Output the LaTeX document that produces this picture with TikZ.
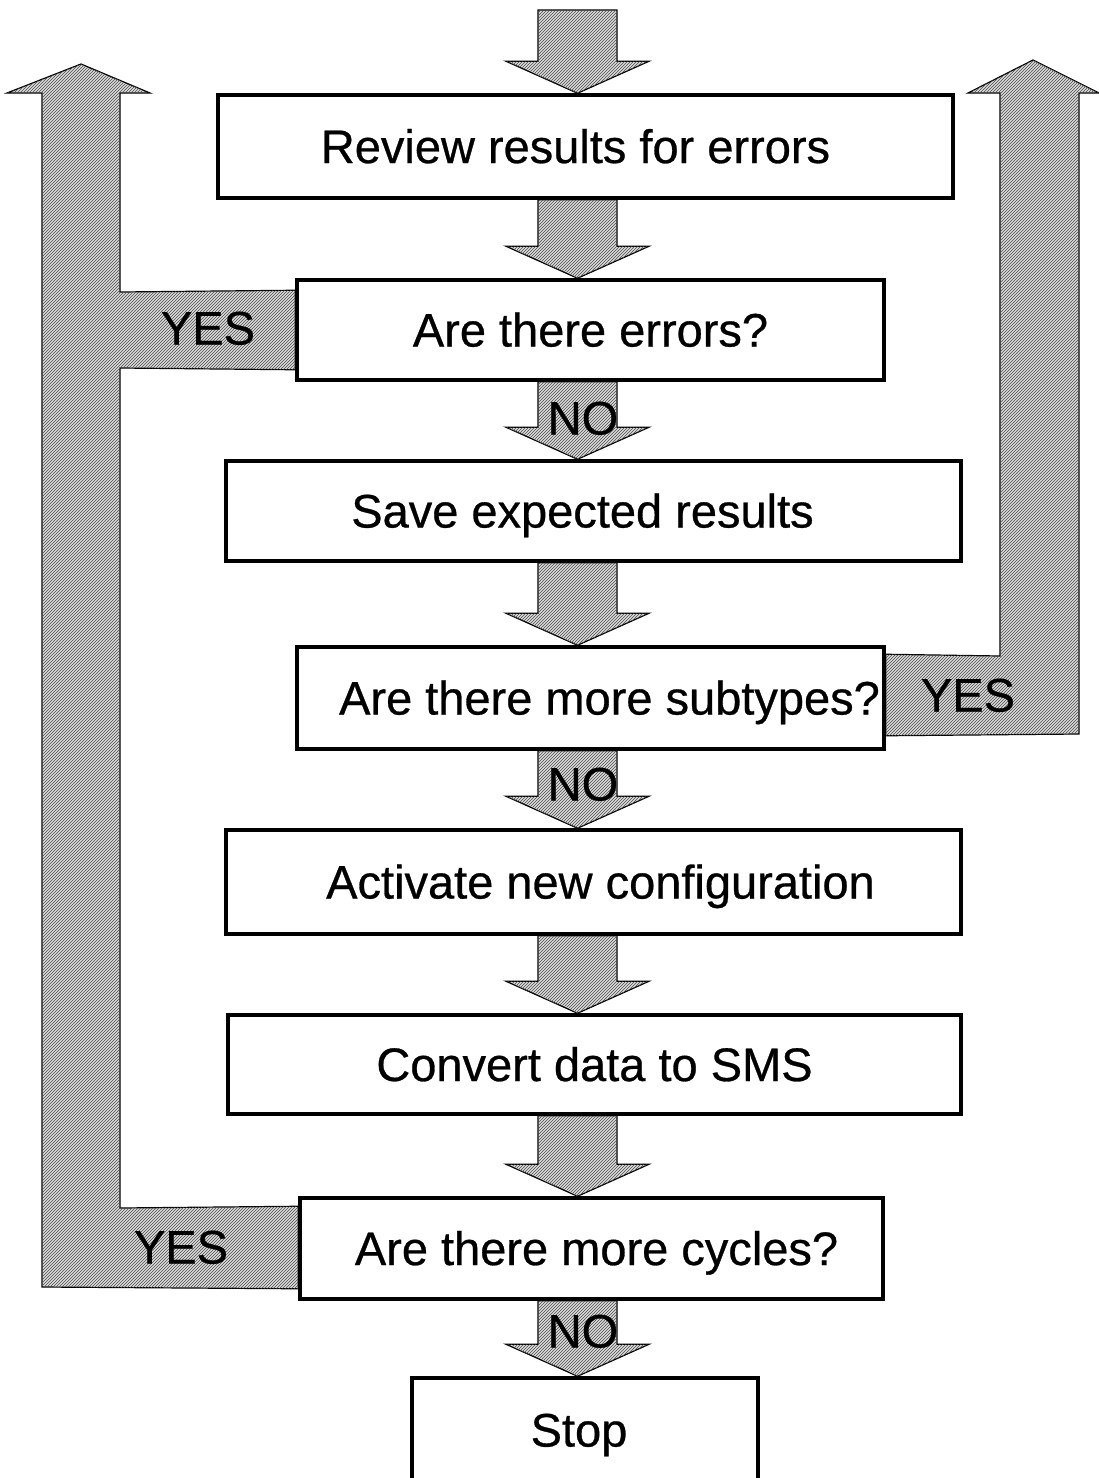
\documentclass[tikz,border=0pt]{standalone}
\usepackage{fontspec}
\setmainfont{Liberation Sans}
\newfontfamily\diagfont{Liberation Sans}[FakeBold=0.6]
\usetikzlibrary{patterns,calc}
\pgfdeclarelayer{bg}
\pgfsetlayers{bg,main}

% block arrow pointing down, from the bottom of one box to the top of the next
\newcommand\flowarrow[2]{%
  \path (ax |- #1) coordinate (s) (ax |- #2) coordinate (t);
  \draw[hatch] ([xshift=-39.5]s) -- ([shift={(-39.5,32)}]t) -- ([shift={(-71.5,32)}]t)
    -- (t) -- ([shift={(71.5,32)}]t) -- ([shift={(39.5,32)}]t) -- ([xshift=39.5]s) -- cycle;}

\begin{document}
\begin{tikzpicture}[x=1pt,y=1pt,
  box/.style={draw, line width=3.5pt, fill=white, inner sep=0pt,
    text height=33pt, text depth=0pt,
    font=\diagfont\fontsize{47}{56}\selectfont},
  hatch/.style={draw=black, line width=1.2pt, fill=gray!28,
    postaction={pattern=north east lines, pattern color=black!70}},
  lbl/.style={font=\diagfont\fontsize{47}{56}\selectfont, inner sep=0pt,
    text height=33pt, text depth=0pt}]
\useasboundingbox (0,0) rectangle (1099,-1478);

\coordinate (ax) at (577.5,0);
\coordinate (entry) at (577.5,-10);

% process and decision boxes
\node[box, minimum width=735, minimum height=103] (b1) at (585.5,-146.5) {Review results for errors\hspace*{20pt}};
\node[box, minimum width=587, minimum height=100] (b2) at (590.5,-330) {Are there errors?};
\node[box, minimum width=735, minimum height=100] (b3) at (593.5,-511) {Save expected results\hspace*{22pt}};
\node[box, minimum width=587, minimum height=102] (b4) at (590.5,-698) {\hspace*{38pt}Are there more subtypes?};
\node[box, minimum width=735, minimum height=104] (b5) at (593.5,-882) {\hspace*{14pt}Activate new configuration};
\node[box, minimum width=733, minimum height=99] (b6) at (594.5,-1064.5) {Convert data to SMS};
\node[box, minimum width=583, minimum height=101] (b7) at (591.5,-1248.5) {\hspace*{10pt}Are there more cycles?};
\node[box, minimum width=346, minimum height=122] (stop) at (585,-1439) {\raisebox{9pt}{Stop}\hspace*{12pt}};

\begin{pgfonlayer}{bg}
  % main flow
  \flowarrow{entry}{b1.north}
  \flowarrow{b1.south}{b2.north}
  \flowarrow{b2.south}{b3.north}
  \flowarrow{b3.south}{b4.north}
  \flowarrow{b4.south}{b5.north}
  \flowarrow{b5.south}{b6.north}
  \flowarrow{b6.south}{b7.north}
  \flowarrow{b7.south}{stop.north}
  % left loop: errors found / more cycles
  \draw[hatch] (81,-64) -- (150,-93) -- (120,-93) -- (120,-292)
    -- ([yshift=-12]b2.north west) -- ([yshift=12]b2.south west) -- (120,-368)
    -- (120,-1208) -- ([yshift=-10]b7.north west) -- ([yshift=12]b7.south west)
    -- (42,-1287) -- (42,-93) -- (7,-93) -- cycle;
  % right loop: more subtypes
  \draw[hatch] (1033,-60) -- (1099,-93) -- (1079,-93) -- (1079,-734)
    -- ([yshift=15]b4.south east) -- ([yshift=-9]b4.north east)
    -- (1000,-656) -- (1000,-93) -- (968,-93) -- cycle;
\end{pgfonlayer}

% branch labels
\node[lbl] (yes1) at (208,-328) {YES};
\node[lbl] (yes2) at (968,-695) {YES};
\node[lbl] (yes3) at (181,-1247) {YES};
\node[lbl] (no1) at (583,-418) {NO};
\node[lbl] (no2) at (583,-784) {NO};
\node[lbl] (no3) at (583,-1331) {NO};
\end{tikzpicture}
\end{document}
